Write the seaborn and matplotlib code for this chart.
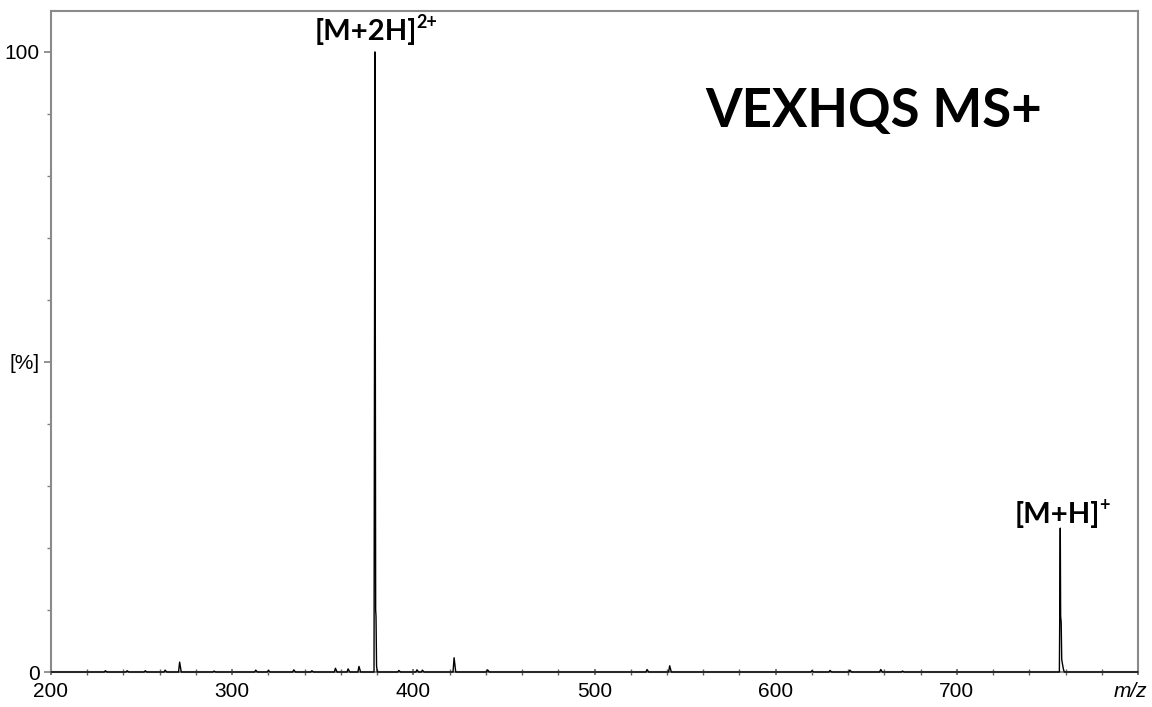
import numpy as np
import pandas as pd
import matplotlib
matplotlib.use('Agg')
import matplotlib.pyplot as plt
from matplotlib.ticker import MultipleLocator
import seaborn as sns

# 主峰的轮廓点 (m/z, 相对强度 %)
main_mz = [378.3, 378.8, 379.0, 379.2, 379.4, 379.7, 380.1]
main_int = [0, 100, 58, 10, 9, 1.0, 0]

mh_mz = [756.6, 757.1, 757.3, 757.6, 757.9, 758.3, 758.8, 759.3]
mh_int = [0, 23.2, 9.0, 8.0, 2.0, 1.3, 0.5, 0]

# 小峰 (m/z, 强度)
small_mz = [230, 242, 252, 263, 271, 290, 313, 320, 334, 344, 357, 364, 370,
            392, 402, 405, 422.5, 441, 529, 541.5, 620, 630, 641, 658, 670]
small_int = [0.2, 0.2, 0.2, 0.3, 1.6, 0.15, 0.3, 0.25, 0.35, 0.2, 0.6, 0.5, 0.9,
             0.25, 0.35, 0.3, 2.3, 0.35, 0.4, 1.0, 0.2, 0.25, 0.3, 0.4, 0.15]

xticks = [200, 300, 400, 500, 600, 700, 800]
xticklabels = ['200', '300', '400', '500', '600', '700', '']
yticks = [0, 50, 100]
yticklabels = ['0', '[%]', '100']


def build_spectrum():
    """把小峰和主峰拼成一条连续的谱线"""
    pts = [(200, 0), (800, 0)]
    for m, i in zip(small_mz, small_int):
        pts += [(m - 0.6, 0), (m, i), (m + 0.9, 0)]
    pts += list(zip(main_mz, main_int))
    pts += list(zip(mh_mz, mh_int))
    df = pd.DataFrame(pts, columns=['mz', 'intensity']).sort_values('mz')
    return df


sns.set_theme(style='white')
plt.rcParams['font.family'] = ['Liberation Sans', 'DejaVu Sans']
plt.rcParams['text.color'] = 'black'
plt.rcParams['xtick.labelcolor'] = 'black'
plt.rcParams['ytick.labelcolor'] = 'black'

fig = plt.figure(figsize=(11.52, 7.07), dpi=100)
ax = fig.add_axes([51 / 1152, 1 - 672 / 707, (1138 - 51) / 1152, (672 - 11) / 707])

df = build_spectrum()
sns.lineplot(data=df, x='mz', y='intensity', estimator=None, sort=False,
             color='black', linewidth=1.0, ax=ax, zorder=4, clip_on=False)

ax.set_xlim(200, 800)
ax.set_ylim(0, 106.6)
ax.set_xlabel('')
ax.set_ylabel('')

ax.set_xticks(xticks)
ax.set_xticklabels(xticklabels)
ax.set_yticks(yticks)
ax.set_yticklabels(yticklabels)
ax.xaxis.set_minor_locator(MultipleLocator(20))
ax.yaxis.set_minor_locator(MultipleLocator(10))

ax.tick_params(axis='both', which='major', labelsize=15, colors='#808080',
               labelcolor='black', width=1.2)
ax.tick_params(axis='x', which='both', direction='inout', length=5, pad=5,
               colors='#606060', labelcolor='black')
ax.tick_params(axis='y', which='major', direction='out', length=5, pad=3)
ax.tick_params(axis='y', which='minor', direction='out', length=3, width=1.0, colors='#808080')
ax.tick_params(axis='x', which='minor', length=4, width=1.0)
ax.tick_params(bottom=True, left=True, which='both')

for s in ax.spines.values():
    s.set_color('#8a8a8a')
    s.set_linewidth(1.5)

# x轴单位 m/z，靠右放在 800 刻度下
ax.annotate('m/z', xy=(800, 0), xycoords=('data', 'axes fraction'),
            xytext=(7, -7), textcoords='offset points', ha='right', va='top',
            fontsize=15, style='italic')

# 标注
lab_font = ['Lato', 'DejaVu Sans']
t1 = ax.text(374, 101.9, '[M+2H]', ha='center', va='baseline',
             fontsize=21, fontweight='bold', family=lab_font)
ax.annotate('2+', xy=(1.0, 1.0), xycoords=t1, ha='left', va='top',
            xytext=(-1, 3), textcoords='offset points',
            fontsize=13, fontweight='bold', family=lab_font)

t2 = ax.text(755.7, 24.0, '[M+H]', ha='center', va='baseline',
             fontsize=21, fontweight='bold', family=lab_font)
ax.annotate('+', xy=(1.0, 1.0), xycoords=t2, ha='left', va='top',
            xytext=(-1, 3), textcoords='offset points',
            fontsize=13, fontweight='bold', family=lab_font)

ax.text(654.3, 87.9, 'VEXHQS MS+', ha='center', va='baseline',
        fontsize=38, fontweight='bold', family=lab_font)

fig.savefig('out.png', dpi=100)
